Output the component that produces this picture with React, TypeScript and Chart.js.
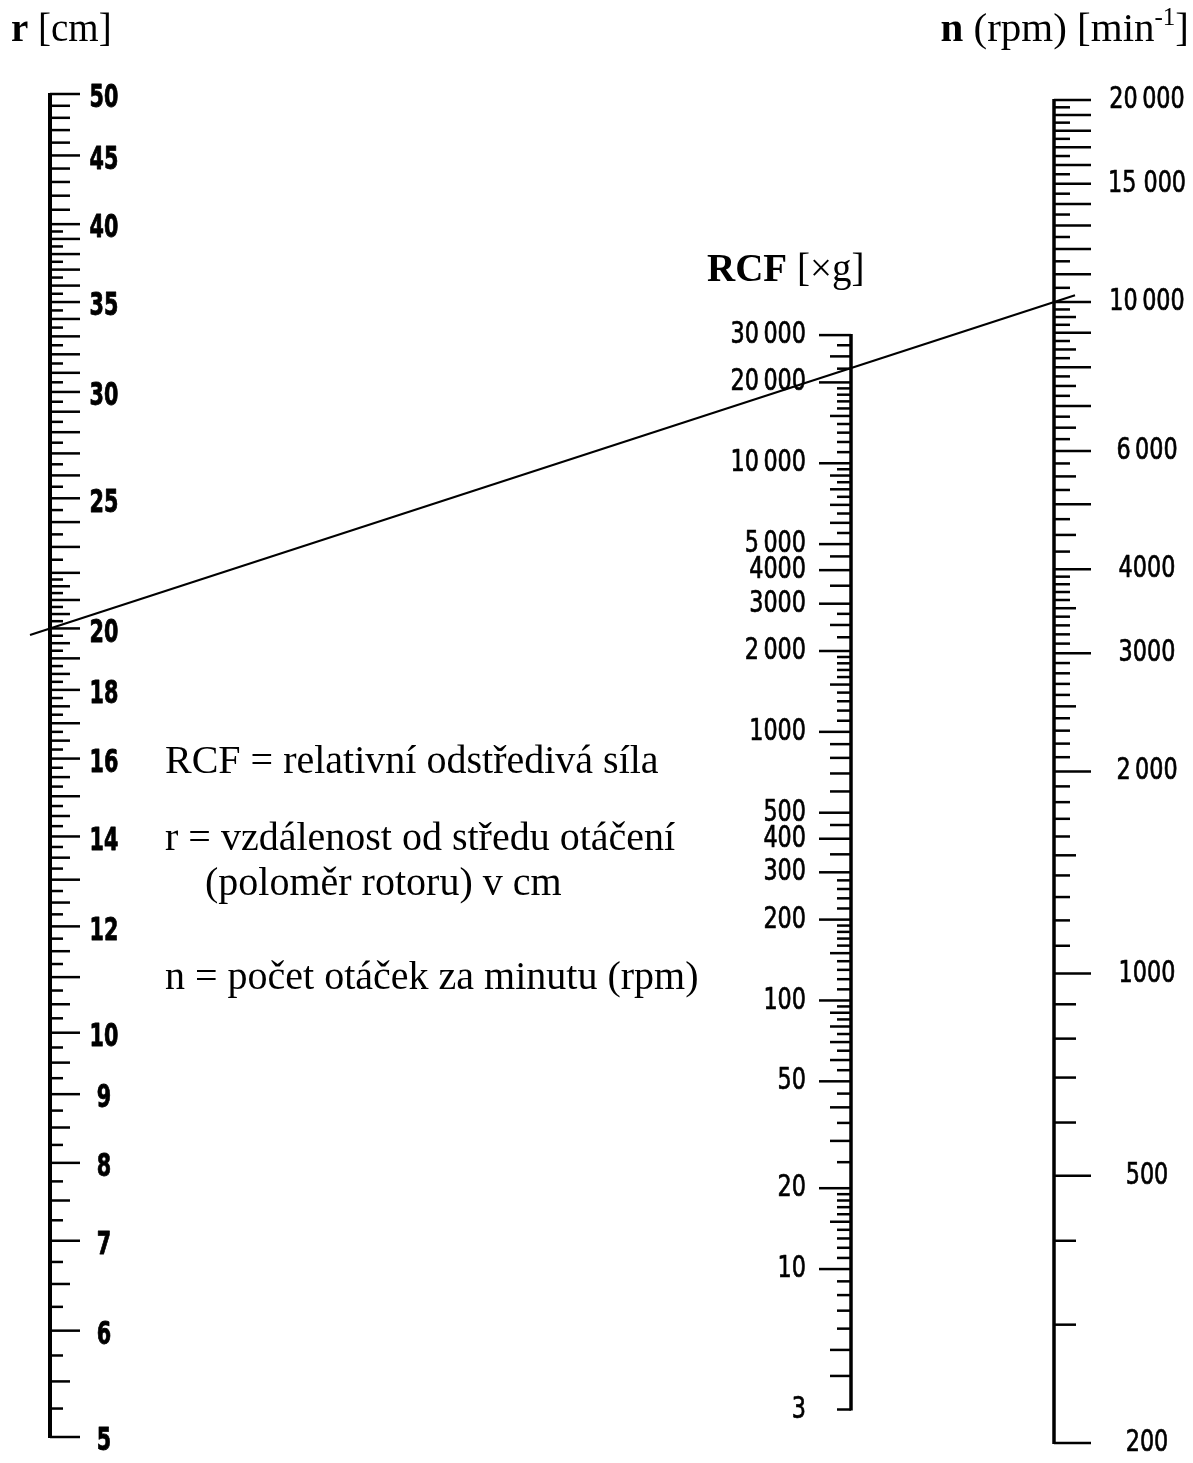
import React, { useEffect, useRef } from 'react';
import { Chart, registerables } from 'chart.js';

Chart.register(...registerables);

const WIDTH = 1193;
const HEIGHT = 1463;

// ---------------- data ----------------
// r scale [cm]
const R_MIN = 5;
const R_MAX = 50;
const R_TICK_SEGMENTS: [number, number, number][] = [
  [5, 22, 0.25],
  [22, 40, 0.5],
  [40, 50, 1],
];
const R_LABEL_VALUES = [5, 6, 7, 8, 9, 10, 12, 14, 16, 18, 20, 25, 30, 35, 40, 45, 50];
const R_LABEL_TEXTS = ['5', '6', '7', '8', '9', '10', '12', '14', '16', '18', '20', '25', '30', '35', '40', '45', '50'];

// RCF scale [x g]
const RCF_MIN = 3;
const RCF_MAX = 30000;
const RCF_TICK_SEGMENTS: [number, number, number][] = [
  [3, 10, 1],
  [10, 20, 1],
  [20, 100, 5],
  [100, 200, 10],
  [200, 300, 20],
  [300, 500, 50],
  [500, 2000, 100],
  [2000, 3000, 250],
  [3000, 10000, 500],
  [10000, 20000, 1000],
  [20000, 30000, 2500],
];
const RCF_MEDIUM_TICKS = [4, 5, 15, 30, 40, 60, 70, 80, 90, 150, 350, 450, 600, 700, 800, 900, 1500, 2500, 3500, 4500, 6000, 7000, 8000, 9000, 15000, 25000];
const RCF_LABEL_VALUES = [3, 10, 20, 50, 100, 200, 300, 400, 500, 1000, 2000, 3000, 4000, 5000, 10000, 20000, 30000];
const RCF_LABEL_TEXTS = ['3', '10', '20', '50', '100', '200', '300', '400', '500', '1000', '2\u2009000', '3000', '4000', '5\u2009000', '10\u2009000', '20\u2009000', '30\u2009000'];

// n scale [min^-1]
const N_MIN = 200;
const N_MAX = 20000;
const N_TICK_SEGMENTS: [number, number, number][] = [
  [200, 1000, 100],
  [1000, 4000, 100],
  [4000, 10000, 250],
  [10000, 20000, 500],
];
const N_LABEL_VALUES = [200, 500, 1000, 2000, 3000, 4000, 6000, 10000, 15000, 20000];
const N_LABEL_TEXTS = ['200', '500', '1000', '2\u2009000', '3000', '4000', '6\u2009000', '10\u2009000', '15 000', '20\u2009000'];

// example isopleth
const ISO_R = 20;
const ISO_N = 10000;

// ---------------- layout / style ----------------
const AXIS_X_R = 50;
const AXIS_X_RCF = 851;
const AXIS_X_N = 1054;
const RCF_SCALE_MIN = 2.37;
const RCF_SCALE_MAX = 237000;
const N_SCALE_MIN = 204.1;
const N_SCALE_MAX = 20410;

const SERIF = '"Liberation Serif", "Times New Roman", serif';
const TICKFONT = '"DejaVu Sans Condensed", "DejaVu Sans", sans-serif';

function buildTicks(segments: [number, number, number][]): number[] {
  const out: number[] = [];
  for (const [from, to, step] of segments) {
    const count = Math.round((to - from) / step);
    for (let i = 0; i <= count; i++) {
      const v = +(from + i * step).toFixed(4);
      if (!out.includes(v)) out.push(v);
    }
  }
  return out;
}

function isInt(v: number) {
  return Math.abs(v - Math.round(v)) < 1e-6;
}

function rKind(v: number) {
  if (R_LABEL_VALUES.includes(v)) return 'long';
  if (v < 22) {
    if (isInt(v)) return 'long';
    if (isInt(v * 2)) return 'medium';
    return 'short';
  }
  if (v < 40) return isInt(v) ? 'long' : 'short';
  return 'medium';
}

function rcfKind(v: number) {
  if (v === 3) return 'short';
  if (RCF_LABEL_VALUES.includes(v)) return 'long';
  if (RCF_MEDIUM_TICKS.includes(v)) return 'medium';
  return 'short';
}

function nKind(v: number) {
  if (N_LABEL_VALUES.includes(v)) return 'long';
  if (v < 1000) return 'medium';
  if (v % 1000 === 0) return 'long';
  if (v % 500 === 0) return v < 10000 ? 'medium' : 'short';
  return 'short';
}

type Run = { text: string; font: string; dy?: number };

function runsWidth(ctx: CanvasRenderingContext2D, runs: Run[]) {
  let w = 0;
  for (const r of runs) {
    ctx.font = r.font;
    w += ctx.measureText(r.text).width;
  }
  return w;
}

function drawRuns(ctx: CanvasRenderingContext2D, x: number, y: number, runs: Run[]) {
  let cx = x;
  ctx.textAlign = 'left';
  ctx.textBaseline = 'alphabetic';
  for (const r of runs) {
    ctx.font = r.font;
    ctx.fillText(r.text, cx, y + (r.dy || 0));
    cx += ctx.measureText(r.text).width;
  }
}

const nomogramPlugin = {
  id: 'nomogram',
  afterDraw(chart: any) {
    const ctx: CanvasRenderingContext2D = chart.ctx;
    const xs = chart.scales.x;
    const yR = chart.scales.yR;
    const yC = chart.scales.yC;
    const yN = chart.scales.yN;
    ctx.save();
    ctx.fillStyle = '#000';
    ctx.strokeStyle = '#000';

    const drawScale = (
      scale: any,
      xVal: number,
      min: number,
      max: number,
      segments: [number, number, number][],
      kind: (v: number) => string,
      lengths: Record<string, number>,
      dir: number,
      axisWidth: number,
      labelVals: number[],
      labelTexts: string[],
      labelFont: string,
      labelAlign: CanvasTextAlign,
      labelOffset: number,
      labelDy: number,
      labelSx: number,
      labelStroke: number,
    ) => {
      const x = xs.getPixelForValue(xVal);
      const top = scale.getPixelForValue(max);
      const bottom = scale.getPixelForValue(min);
      ctx.lineCap = 'butt';
      ctx.lineWidth = axisWidth;
      ctx.beginPath();
      ctx.moveTo(x, top - 1);
      ctx.lineTo(x, bottom + 1);
      ctx.stroke();
      ctx.lineWidth = 2.5;
      for (const v of buildTicks(segments)) {
        const y = scale.getPixelForValue(v);
        const len = lengths[kind(v)];
        ctx.beginPath();
        ctx.moveTo(x, y);
        ctx.lineTo(x + dir * len, y);
        ctx.stroke();
      }
      ctx.font = labelFont;
      ctx.textAlign = labelAlign;
      ctx.textBaseline = 'middle';
      ctx.lineJoin = 'round';
      labelVals.forEach((v, i) => {
        const y = scale.getPixelForValue(v);
        ctx.save();
        ctx.translate(x + labelOffset, y + labelDy);
        ctx.scale(labelSx, 1);
        ctx.fillText(labelTexts[i], 0, 0);
        if (labelStroke > 0) {
          ctx.lineWidth = labelStroke;
          ctx.strokeText(labelTexts[i], 0, 0);
        }
        ctx.restore();
      });
    };

    drawScale(yR, AXIS_X_R, R_MIN, R_MAX, R_TICK_SEGMENTS, rKind,
      { long: 30, medium: 20, short: 13 }, 1, 4,
      R_LABEL_VALUES, R_LABEL_TEXTS, `bold 32px ${TICKFONT}`, 'center', 54, 5, 0.72, 0.8);
    drawScale(yC, AXIS_X_RCF, RCF_MIN, RCF_MAX, RCF_TICK_SEGMENTS, rcfKind,
      { long: 32, medium: 21, short: 14 }, -1, 3.5,
      RCF_LABEL_VALUES, RCF_LABEL_TEXTS, `31px ${TICKFONT}`, 'right', -45, 0, 0.8, 0.7);
    drawScale(yN, AXIS_X_N, N_MIN, N_MAX, N_TICK_SEGMENTS, nKind,
      { long: 37, medium: 22, short: 16 }, 1, 3.5,
      N_LABEL_VALUES, N_LABEL_TEXTS, `31px ${TICKFONT}`, 'center', 93, 0, 0.8, 0.7);

    // isopleth line r=20 -> n=10000
    const x1 = xs.getPixelForValue(AXIS_X_R);
    const y1 = yR.getPixelForValue(ISO_R);
    const x2 = xs.getPixelForValue(AXIS_X_N);
    const y2 = yN.getPixelForValue(ISO_N);
    const slope = (y2 - y1) / (x2 - x1);
    const ext1 = 20;
    const ext2 = 21;
    ctx.lineWidth = 2.2;
    ctx.beginPath();
    ctx.moveTo(x1 - ext1, y1 - slope * ext1);
    ctx.lineTo(x2 + ext2, y2 + slope * ext2);
    ctx.stroke();

    // titles
    const B = `bold 39px ${SERIF}`;
    const N = `39px ${SERIF}`;
    const BN = `bold 41px ${SERIF}`;
    const NN = `41px ${SERIF}`;
    const S = `25px ${SERIF}`;
    drawRuns(ctx, 11, 41, [{ text: 'r', font: B }, { text: ' [cm]', font: N }]);
    const nRuns: Run[] = [
      { text: 'n', font: BN },
      { text: ' (rpm) [min', font: NN },
      { text: '-1', font: S, dy: -16 },
      { text: ']', font: NN },
    ];
    drawRuns(ctx, 1189 - runsWidth(ctx, nRuns), 41, nRuns);
    drawRuns(ctx, 707, 281, [{ text: 'RCF', font: B }, { text: ' [\u00d7g]', font: N }]);

    // explanation text
    const T = `40px ${SERIF}`;
    drawRuns(ctx, 165, 773, [{ text: 'RCF = relativní odstředivá síla', font: T }]);
    drawRuns(ctx, 165, 850, [{ text: 'r = vzdálenost od středu otáčení', font: T }]);
    drawRuns(ctx, 205, 895, [{ text: '(poloměr rotoru) v cm', font: T }]);
    drawRuns(ctx, 165, 989, [{ text: 'n = počet otáček za minutu (rpm)', font: T }]);

    ctx.restore();
  },
};

export default function App() {
  const canvasRef = useRef<HTMLCanvasElement | null>(null);

  useEffect(() => {
    const canvas = canvasRef.current;
    if (!canvas) return;
    const chart = new Chart(canvas, {
      type: 'scatter',
      data: { datasets: [] },
      options: {
        responsive: false,
        animation: false,
        devicePixelRatio: 1,
        layout: { padding: { top: 94, bottom: 26, left: 0, right: 0 } },
        plugins: { legend: { display: false }, tooltip: { enabled: false }, title: { display: false } },
        events: [],
        scales: {
          x: { type: 'linear', min: 0, max: WIDTH, display: false, bounds: 'data' },
          yR: { type: 'logarithmic', axis: 'y', position: 'left', min: R_MIN, max: R_MAX, display: false, bounds: 'data' },
          yC: { type: 'logarithmic', axis: 'y', position: 'left', min: RCF_SCALE_MIN, max: RCF_SCALE_MAX, display: false, bounds: 'data' },
          yN: { type: 'logarithmic', axis: 'y', position: 'right', min: N_SCALE_MIN, max: N_SCALE_MAX, display: false, bounds: 'data' },
        },
      } as any,
      plugins: [nomogramPlugin],
    });
    return () => chart.destroy();
  }, []);

  return (
    <div style={{ position: 'absolute', left: 0, top: 0, width: WIDTH, height: HEIGHT, background: '#fff' }}>
      <canvas ref={canvasRef} width={WIDTH} height={HEIGHT} style={{ display: 'block' }} />
    </div>
  );
}
